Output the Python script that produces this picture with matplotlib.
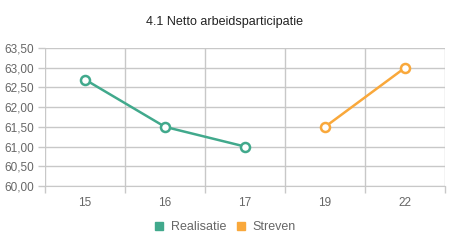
import matplotlib.pyplot as plt
import numpy as np
from matplotlib.lines import Line2D

plt.rcParams["font.family"] = ["Liberation Sans", "DejaVu Sans"]

categories = ["15", "16", "17", "19", "22"]
realisatie_idx = [0, 1, 2]
realisatie = [62.7, 61.5, 61.0]
streven_idx = [3, 4]
streven = [61.5, 63.0]
y_ticks = [60.0, 60.5, 61.0, 61.5, 62.0, 62.5, 63.0, 63.5]

green = "#41a98c"
orange = "#f9a83b"
grid = "#c8c8c8"
text_gray = "#666666"

fig = plt.figure(figsize=(4.5, 2.5), dpi=100)
ax = fig.add_axes([0.1, 0.256, 0.889, 0.552])

ax.plot(realisatie_idx, realisatie, color=green, lw=1.8, marker="o", ms=6.5,
        mfc="white", mec=green, mew=1.8, zorder=3)
ax.plot(streven_idx, streven, color=orange, lw=1.8, marker="o", ms=6.5,
        mfc="white", mec=orange, mew=1.8, zorder=3)

ax.set_xlim(-0.5, len(categories) - 0.5)
ax.set_ylim(60.0, 63.5)
ax.set_xticks(range(len(categories)))
ax.set_xticklabels(categories)
ax.set_xticks(np.arange(-0.5, len(categories), 1.0), minor=True)
ax.set_yticks(y_ticks)
ax.set_yticklabels([f"{v:.2f}".replace(".", ",") for v in y_ticks])

ax.grid(True, which="minor", axis="x", color=grid, lw=1)
ax.grid(True, which="major", axis="y", color=grid, lw=1)
for s in ax.spines.values():
    s.set_visible(False)
ax.spines["bottom"].set_visible(True)
ax.spines["bottom"].set_color(grid)

ax.tick_params(axis="x", which="major", length=0, pad=8, labelsize=8.5, labelcolor=text_gray)
ax.tick_params(axis="x", which="minor", length=5, color=grid, width=1)
ax.tick_params(axis="y", length=5, color=grid, width=1, pad=3, labelsize=8.5, labelcolor=text_gray)

fig.text(0.5, 0.912, "4.1 Netto arbeidsparticipatie", ha="center", va="center", fontsize=9, color="#222222")

handles = [
    Line2D([], [], ls="none", marker="s", ms=6, color=green),
    Line2D([], [], ls="none", marker="s", ms=6, color=orange),
]
fig.legend(handles, ["Realisatie", "Streven"], loc="center", bbox_to_anchor=(0.5, 0.09),
           ncol=2, frameon=False, fontsize=9, labelcolor=text_gray,
           handlelength=0.8, handletextpad=0.5, columnspacing=0.8)

fig.savefig("out.png", dpi=100)
